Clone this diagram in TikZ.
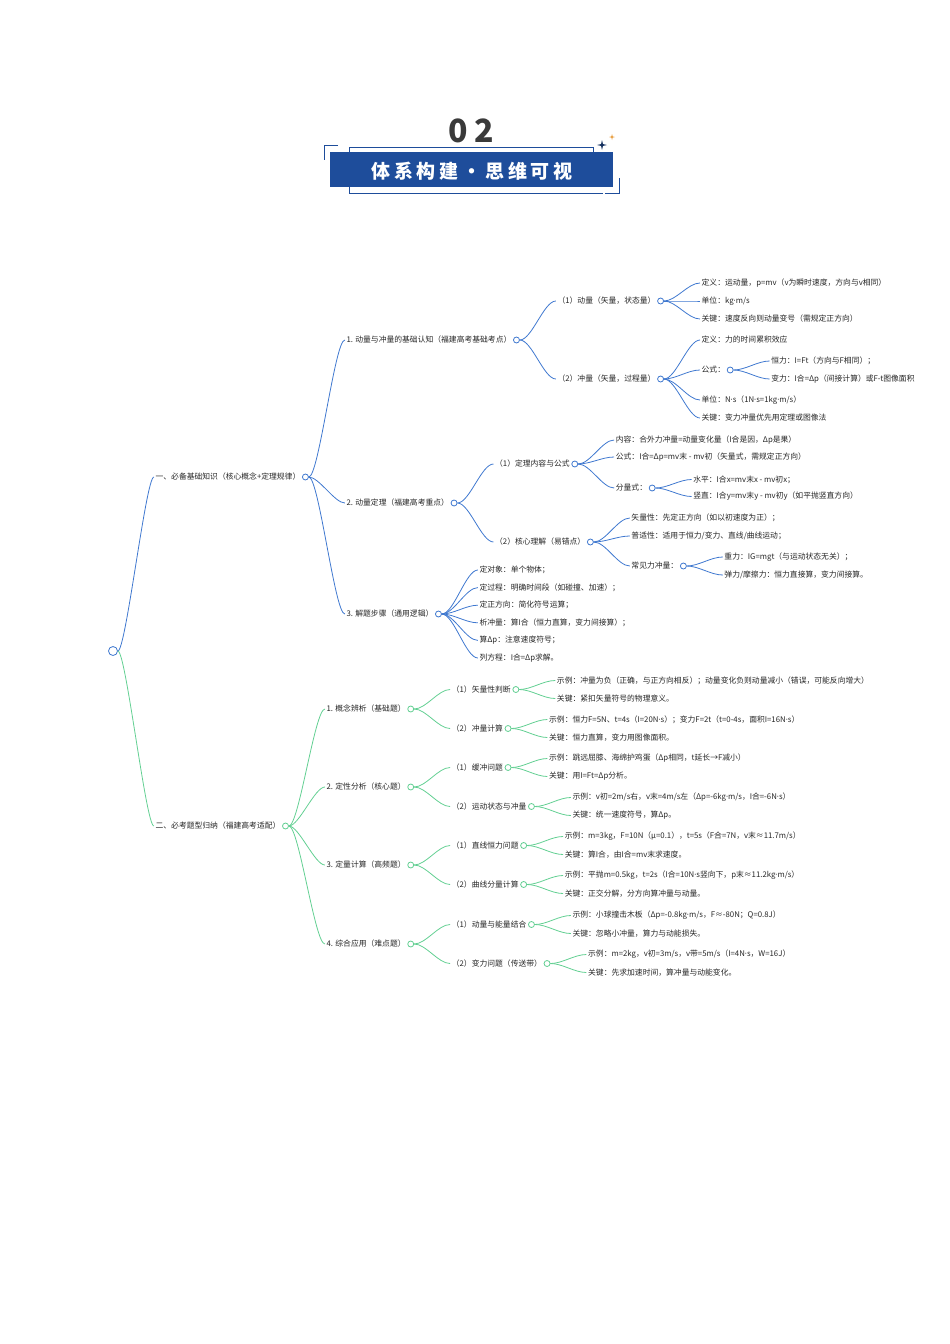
\documentclass[tikz,border=0pt]{standalone}
\usepackage{fontspec}
\setmainfont{Noto Sans CJK SC}
\newfontfamily\titlefont[LetterSpace=20]{Noto Sans CJK SC}
\newfontfamily\latinfont{Noto Sans}
\newcommand{\mdot}{{\latinfont ·}}
\usetikzlibrary{positioning,calc}

\definecolor{mapblue}{HTML}{3F78CF}
\definecolor{mapgreen}{HTML}{62CF92}
\definecolor{titleblue}{HTML}{1E4D9B}
\definecolor{textgray}{HTML}{262626}
\definecolor{numgray}{HTML}{3A3A3A}
\definecolor{starorange}{HTML}{E79B3A}

\begin{document}
\begin{tikzpicture}[
    x=1pt, y=-1pt,
    txt/.style={inner xsep=1.5pt, inner ysep=1pt, text=textgray, font=\fontsize{7.8}{9}\selectfont},
    dot/.style={circle, draw=#1, fill=white, line width=0.8pt, inner sep=0pt, minimum size=6pt},
    bline/.style={draw=mapblue, line width=0.8pt},
    gline/.style={draw=mapgreen, line width=0.8pt},
    fan/.style={out=0, in=180, distance=#1},
    fan/.default=12pt
]
    \useasboundingbox (0,0) rectangle (950,1344);

    % 标题
    \draw[titleblue, line width=0.8pt] (349,152) -- (349,147) -- (593,147) -- (593,152);
    \draw[titleblue, line width=0.8pt] (349,187) -- (349,193) -- (603,193);
    \draw[titleblue, line width=0.9pt] (338,145) -- (324,145) -- (324,160);
    \draw[titleblue, line width=0.9pt] (619,178) -- (619,193) -- (605,193);
    \node[fill=titleblue, minimum width=283pt, minimum height=35pt, inner sep=0pt] (banner) at (471.5,169.5) {};
    \node[text=white, font=\titlefont\bfseries\fontsize{19}{19}\selectfont] (title) at (472,171) {体系构建・思维可视};
    \node[text=numgray, font=\titlefont\bfseries\fontsize{32}{32}\selectfont] (num) at (471,131) {02};
    \fill[titleblue!60!black] (602,140) -- (602.9,144.1) -- (607,145) -- (602.9,145.9) -- (602,150) -- (601.1,145.9) -- (597,145) -- (601.1,144.1) -- cycle;
    \fill[starorange] (612,134) -- (612.6,136.4) -- (615,137) -- (612.6,137.6) -- (612,140) -- (611.4,137.6) -- (609,137) -- (611.4,136.4) -- cycle;

    % 根节点
    \node[dot=mapblue, minimum size=9pt] (root) at (113,651) {};

    % 一、必备基础知识
    \node[txt, right=36pt of root, yshift=174pt] (A) {一、必备基础知识（核心概念+定理规律）};
    \node[dot=mapblue, right=0pt of A] (Ao) {};

    \node[txt, right=36pt of Ao, yshift=137pt] (A1) {1. 动量与冲量的基础认知（福建高考基础考点）};
    \node[dot=mapblue, right=0pt of A1] (A1o) {};
    \node[txt, right=36pt of Ao, yshift=-26pt] (A2) {2. 动量定理（福建高考重点）};
    \node[dot=mapblue, right=0pt of A2] (A2o) {};
    \node[txt, right=36pt of Ao, yshift=-137pt] (A3) {3. 解题步骤（通用逻辑）};
    \node[dot=mapblue, right=0pt of A3] (A3o) {};

    % 1. 基础认知
    \node[txt, right=36pt of A1o, yshift=39pt] (A1a) {（1）动量（矢量，状态量）};
    \node[dot=mapblue, right=0pt of A1a] (A1ao) {};
    \node[txt, right=36pt of A1o, yshift=-39pt] (A1b) {（2）冲量（矢量，过程量）};
    \node[dot=mapblue, right=0pt of A1b] (A1bo) {};

    \node[txt, right=36pt of A1ao, yshift=18pt] (A1a1) {定义：运动量，p=mv（v为瞬时速度，方向与v相同）};
    \node[txt, right=36pt of A1ao] (A1a2) {单位：kg\mdot m/s};
    \node[txt, right=36pt of A1ao, yshift=-18pt] (A1a3) {关键：速度反向则动量变号（需规定正方向）};

    \node[txt, right=36pt of A1bo, yshift=39pt] (A1b1) {定义：力的时间累积效应};
    \node[txt, right=36pt of A1bo, yshift=9pt] (A1b2) {公式：};
    \node[dot=mapblue, right=0pt of A1b2] (A1b2o) {};
    \node[txt, right=36pt of A1b2o, yshift=9pt] (A1b21) {恒力：I=Ft（方向与F相同）；};
    \node[txt, right=36pt of A1b2o, yshift=-9pt] (A1b22) {变力：I合=Δp（间接计算）或F-t图像面积};
    \node[txt, right=36pt of A1bo, yshift=-21pt] (A1b3) {单位：N\mdot s（1N\mdot s=1kg\mdot m/s）};
    \node[txt, right=36pt of A1bo, yshift=-39pt] (A1b4) {关键：变力冲量优先用定理或图像法};

    % 2. 动量定理
    \node[txt, right=36pt of A2o, yshift=39pt] (A2a) {（1）定理内容与公式};
    \node[dot=mapblue, right=0pt of A2a] (A2ao) {};
    \node[txt, right=36pt of A2o, yshift=-39pt] (A2b) {（2）核心理解（易错点）};
    \node[dot=mapblue, right=0pt of A2b] (A2bo) {};

    \node[txt, right=36pt of A2ao, yshift=24pt] (A2a1) {内容：合外力冲量=动量变化量（I合是因，Δp是果）};
    \node[txt, right=36pt of A2ao, yshift=7pt] (A2a2) {公式：I合=Δp=mv末 - mv初（矢量式，需规定正方向）};
    \node[txt, right=36pt of A2ao, yshift=-24pt] (A2a3) {分量式：};
    \node[dot=mapblue, right=0pt of A2a3] (A2a3o) {};
    \node[txt, right=36pt of A2a3o, yshift=8.5pt] (A2a31) {水平：I合x=mv末x - mv初x；};
    \node[txt, right=36pt of A2a3o, yshift=-8.5pt] (A2a32) {竖直：I合y=mv末y - mv初y（如平抛竖直方向）};

    \node[txt, right=36pt of A2bo, yshift=24pt] (A2b1) {矢量性：先定正方向（如以初速度为正）；};
    \node[txt, right=36pt of A2bo, yshift=6pt] (A2b2) {普适性：适用于恒力/变力、直线/曲线运动；};
    \node[txt, right=36pt of A2bo, yshift=-24pt] (A2b3) {常见力冲量：};
    \node[dot=mapblue, right=0pt of A2b3] (A2b3o) {};
    \node[txt, right=36pt of A2b3o, yshift=9pt] (A2b31) {重力：IG=mgt（与运动状态无关）；};
    \node[txt, right=36pt of A2b3o, yshift=-9pt] (A2b32) {弹力/摩擦力：恒力直接算，变力间接算。};

    % 3. 解题步骤
    \node[txt, right=36pt of A3o, yshift=44pt] (A31) {定对象：单个物体；};
    \node[txt, right=36pt of A3o, yshift=26.4pt] (A32) {定过程：明确时间段（如碰撞、加速）；};
    \node[txt, right=36pt of A3o, yshift=8.8pt] (A33) {定正方向：简化符号运算；};
    \node[txt, right=36pt of A3o, yshift=-8.8pt] (A34) {析冲量：算I合（恒力直算，变力间接算）；};
    \node[txt, right=36pt of A3o, yshift=-26.4pt] (A35) {算Δp：注意速度符号；};
    \node[txt, right=36pt of A3o, yshift=-44pt] (A36) {列方程：I合=Δp求解。};

    % 二、必考题型归纳
    \node[txt, right=36pt of root, yshift=-175pt] (B) {二、必考题型归纳（福建高考适配）};
    \node[dot=mapgreen, right=0pt of B] (Bo) {};

    \node[txt, right=36pt of Bo, yshift=117pt] (B1) {1. 概念辨析（基础题）};
    \node[dot=mapgreen, right=0pt of B1] (B1o) {};
    \node[txt, right=36pt of Bo, yshift=39pt] (B2) {2. 定性分析（核心题）};
    \node[dot=mapgreen, right=0pt of B2] (B2o) {};
    \node[txt, right=36pt of Bo, yshift=-39pt] (B3) {3. 定量计算（高频题）};
    \node[dot=mapgreen, right=0pt of B3] (B3o) {};
    \node[txt, right=36pt of Bo, yshift=-118pt] (B4) {4. 综合应用（难点题）};
    \node[dot=mapgreen, right=0pt of B4] (B4o) {};

    \node[txt, right=36pt of B1o, yshift=19.5pt] (B1a) {（1）矢量性判断};
    \node[dot=mapgreen, right=0pt of B1a] (B1ao) {};
    \node[txt, right=36pt of B1o, yshift=-19.5pt] (B1b) {（2）冲量计算};
    \node[dot=mapgreen, right=0pt of B1b] (B1bo) {};
    \node[txt, right=36pt of B2o, yshift=19.5pt] (B2a) {（1）缓冲问题};
    \node[dot=mapgreen, right=0pt of B2a] (B2ao) {};
    \node[txt, right=36pt of B2o, yshift=-19.5pt] (B2b) {（2）运动状态与冲量};
    \node[dot=mapgreen, right=0pt of B2b] (B2bo) {};
    \node[txt, right=36pt of B3o, yshift=19.5pt] (B3a) {（1）直线恒力问题};
    \node[dot=mapgreen, right=0pt of B3a] (B3ao) {};
    \node[txt, right=36pt of B3o, yshift=-19.5pt] (B3b) {（2）曲线分量计算};
    \node[dot=mapgreen, right=0pt of B3b] (B3bo) {};
    \node[txt, right=36pt of B4o, yshift=19.5pt] (B4a) {（1）动量与能量结合};
    \node[dot=mapgreen, right=0pt of B4a] (B4ao) {};
    \node[txt, right=36pt of B4o, yshift=-19.5pt] (B4b) {（2）变力问题（传送带）};
    \node[dot=mapgreen, right=0pt of B4b] (B4bo) {};

    \node[txt, right=36pt of B1ao, yshift=9pt] (B1a1) {示例：冲量为负（正确，与正方向相反）；动量变化负则动量减小（错误，可能反向增大）};
    \node[txt, right=36pt of B1ao, yshift=-9pt] (B1a2) {关键：紧扣矢量符号的物理意义。};
    \node[txt, right=36pt of B1bo, yshift=9pt] (B1b1) {示例：恒力F=5N、t=4s（I=20N\mdot s）；变力F=2t（t=0-4s，面积I=16N\mdot s）};
    \node[txt, right=36pt of B1bo, yshift=-9pt] (B1b2) {关键：恒力直算，变力用图像面积。};
    \node[txt, right=36pt of B2ao, yshift=9pt] (B2a1) {示例：跳远屈膝、海绵护鸡蛋（Δp相同，t延长→F减小）};
    \node[txt, right=36pt of B2ao, yshift=-9pt] (B2a2) {关键：用I=Ft=Δp分析。};
    \node[txt, right=36pt of B2bo, yshift=9pt] (B2b1) {示例：v初=2m/s右，v末=4m/s左（Δp=-6kg\mdot m/s，I合=-6N\mdot s）};
    \node[txt, right=36pt of B2bo, yshift=-9pt] (B2b2) {关键：统一速度符号，算Δp。};
    \node[txt, right=36pt of B3ao, yshift=9pt] (B3a1) {示例：m=3kg，F=10N（μ=0.1），t=5s（F合=7N，v末≈11.7m/s）};
    \node[txt, right=36pt of B3ao, yshift=-9pt] (B3a2) {关键：算I合，由I合=mv末求速度。};
    \node[txt, right=36pt of B3bo, yshift=9pt] (B3b1) {示例：平抛m=0.5kg，t=2s（I合=10N\mdot s竖向下，p末≈11.2kg\mdot m/s）};
    \node[txt, right=36pt of B3bo, yshift=-9pt] (B3b2) {关键：正交分解，分方向算冲量与动量。};
    \node[txt, right=36pt of B4ao, yshift=9pt] (B4a1) {示例：小球撞击木板（Δp=-0.8kg\mdot m/s，F≈-80N；Q=0.8J）};
    \node[txt, right=36pt of B4ao, yshift=-9pt] (B4a2) {关键：忽略小冲量，算力与动能损失。};
    \node[txt, right=36pt of B4bo, yshift=9pt] (B4b1) {示例：m=2kg，v初=3m/s，v带=5m/s（I=4N\mdot s，W=16J）};
    \node[txt, right=36pt of B4bo, yshift=-9pt] (B4b2) {关键：先求加速时间，算冲量与动能变化。};

    % 连线（蓝）
    \draw[bline] (root.east) to[fan=8pt] (A.west);
    \foreach \c in {A1,A2,A3} \draw[bline] (Ao.east) to[fan=10pt] (\c.west);
    \foreach \c in {A1a,A1b} \draw[bline] (A1o.east) to[fan] (\c.west);
    \foreach \c in {A1a1,A1a2,A1a3} \draw[bline] (A1ao.east) to[fan] (\c.west);
    \foreach \c in {A1b1,A1b2,A1b3,A1b4} \draw[bline] (A1bo.east) to[fan] (\c.west);
    \foreach \c in {A1b21,A1b22} \draw[bline] (A1b2o.east) to[fan] (\c.west);
    \foreach \c in {A2a,A2b} \draw[bline] (A2o.east) to[fan] (\c.west);
    \foreach \c in {A2a1,A2a2,A2a3} \draw[bline] (A2ao.east) to[fan] (\c.west);
    \foreach \c in {A2a31,A2a32} \draw[bline] (A2a3o.east) to[fan] (\c.west);
    \foreach \c in {A2b1,A2b2,A2b3} \draw[bline] (A2bo.east) to[fan] (\c.west);
    \foreach \c in {A2b31,A2b32} \draw[bline] (A2b3o.east) to[fan] (\c.west);
    \foreach \c in {A31,A32,A33,A34,A35,A36} \draw[bline] (A3o.east) to[fan] (\c.west);

    % 连线（绿）
    \draw[gline] (root.east) to[fan=8pt] (B.west);
    \foreach \c in {B1,B2,B3,B4} \draw[gline] (Bo.east) to[fan=10pt] (\c.west);
    \foreach \p in {B1,B2,B3,B4} {
        \draw[gline] (\p o.east) to[fan] (\p a.west);
        \draw[gline] (\p o.east) to[fan] (\p b.west);
        \draw[gline] (\p ao.east) to[fan] (\p a1.west);
        \draw[gline] (\p ao.east) to[fan] (\p a2.west);
        \draw[gline] (\p bo.east) to[fan] (\p b1.west);
        \draw[gline] (\p bo.east) to[fan] (\p b2.west);
    }
    % 圆点置顶
    \foreach \n in {root,Ao,A1o,A2o,A3o,A1ao,A1bo,A1b2o,A2ao,A2bo,A2a3o,A2b3o}
        \node[dot=mapblue, minimum size=0pt] at (\n.center) {};
\end{tikzpicture}
\end{document}
